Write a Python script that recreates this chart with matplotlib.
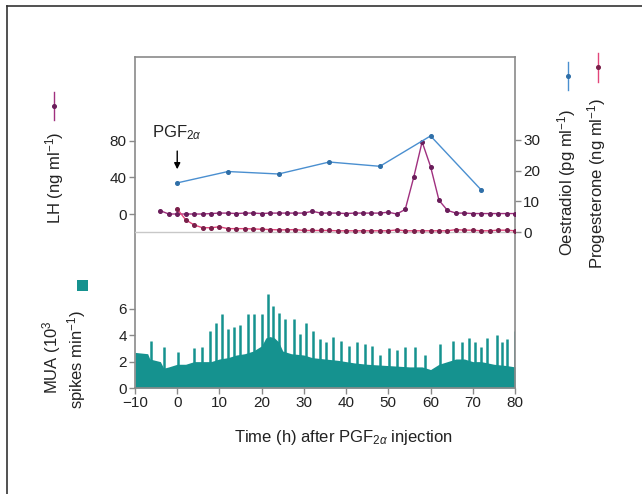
import matplotlib
matplotlib.use("Agg")
import matplotlib.pyplot as plt
from matplotlib.lines import Line2D
from matplotlib.patches import Rectangle

plt.rcParams['font.family'] = ['Liberation Sans', 'DejaVu Sans']
plt.rcParams['mathtext.fontset'] = 'custom'
plt.rcParams['mathtext.rm'] = 'Liberation Sans'
plt.rcParams['mathtext.it'] = 'Liberation Sans:italic'

# LH (ng/ml), sampled every 2 h from -4 to 80 h
lh_t = list(range(-4, 81, 2))
lh = [3.6, 0, 0, 0, 0, 0, 0.5, 1, 1, 0.5, 1, 1, 0.5, 1, 1, 1, 1, 1, 3, 1, 1, 1,
      0.5, 1, 1, 1, 1, 2, 0, 5, 40, 79, 52, 15, 4, 1, 1, 0.5, 0.5, 0.5, 0.5,
      0.5, 0.5]

# Progesterone (ng/ml), every 2 h from 0 to 80 h
prog_t = list(range(0, 81, 2))
prog = [7.5, 4.0, 2.3, 1.4, 1.4, 1.7, 1.1, 1.1, 1.1, 1.0, 0.9, 0.8, 0.7, 0.7,
        0.8, 0.5, 0.5, 0.5, 0.5, 0.4, 0.4, 0.4, 0.4, 0.4, 0.4, 0.4, 0.7, 0.4,
        0.4, 0.4, 0.4, 0.4, 0.4, 0.8, 0.6, 0.6, 0.4, 0.4, 0.6, 0.6, 0.4]

# Oestradiol (pg/ml)
oe_t = [0, 12, 24, 36, 48, 60, 72]
oe = [16, 19.7, 18.9, 22.8, 21.4, 31.3, 13.7]

# MUA baseline (10^3 spikes/min)
mua_t = [-10, -7, -6.5, -4, -3.2, -2, 0, 2, 4, 6, 8, 10, 12, 14, 16, 18, 20,
         21, 22, 23, 24, 25, 27, 30, 32, 35, 38, 40, 42, 45, 50, 55, 58, 59,
         60, 62, 64, 66, 68, 70, 72, 75, 78, 80]
mua = [2.7, 2.6, 2.2, 2.0, 1.5, 1.6, 1.8, 1.8, 2.0, 2.0, 2.0, 2.2, 2.3, 2.5,
       2.6, 2.8, 3.2, 3.8, 3.9, 3.8, 3.5, 2.8, 2.6, 2.5, 2.3, 2.2, 2.1, 2.0,
       1.9, 1.8, 1.7, 1.6, 1.6, 1.5, 1.4, 1.8, 2.0, 2.2, 2.2, 2.0, 2.0, 1.8,
       1.7, 1.6]

# MUA volleys
spike_t = [-6.2, -3.2, 0.3, 4.0, 5.8, 7.7, 9.3, 10.7, 12.1, 13.5, 14.8, 16.8,
           18.3, 20.0, 21.5, 22.7, 24.0, 25.6, 27.6, 29.0, 30.5, 32.1, 33.7,
           35.2, 36.8, 38.8, 40.8, 42.5, 44.5, 46.2, 48.0, 50.1, 52.0, 53.9,
           56.3, 58.8, 62.3, 65.2, 67.4, 69.1, 70.6, 72.0, 73.4, 75.7, 77.0,
           78.1, 79.9]
spike_h = [3.6, 3.1, 2.7, 3.0, 3.1, 4.3, 4.9, 5.6, 4.5, 4.6, 4.8, 5.6, 5.6,
           5.6, 7.1, 6.25, 5.7, 5.2, 5.2, 4.1, 4.9, 4.35, 3.7, 3.5, 3.9, 3.6,
           3.2, 3.5, 3.3, 3.2, 2.5, 3.0, 2.9, 3.1, 3.1, 2.5, 3.3, 3.6, 3.5,
           3.8, 3.5, 3.1, 3.8, 4.0, 3.5, 3.7, 4.3]

W, H = 642, 494
fig = plt.figure(figsize=(W / 100, H / 100), dpi=100)


def fx(x):
    return x / W


def fy(y):
    return 1 - y / H


rect = [fx(135), fy(388), fx(515) - fx(135), fy(57) - fy(388)]
gray = '#8a8a8a'
teal = '#15928f'
fs = 11

ax = fig.add_axes(rect)
ax_lh = fig.add_axes(rect, sharex=ax)
ax_r = fig.add_axes(rect, sharex=ax)
for a in (ax_lh, ax_r):
    a.patch.set_visible(False)
    for s in a.spines.values():
        s.set_visible(False)
    a.xaxis.set_visible(False)

for s in ax.spines.values():
    s.set_color(gray)
    s.set_linewidth(1.2)

# MUA
ax.fill_between(mua_t, mua, 0, color=teal, lw=0)
ax.vlines(spike_t, 0, spike_h, color=teal, lw=1.8)
ax.set_xlim(-10, 80)
ax.set_ylim(0, 25.1)
ax.set_yticks([0, 2, 4, 6])
ax.set_xticks(range(-10, 81, 10))
ax.tick_params(colors=gray, labelcolor='#222', labelsize=fs, length=4,
               width=1, pad=2)

# LH
ax_lh.set_ylim(-190.6, 172)
ax_lh.set_yticks([0, 40, 80])
ax_lh.tick_params(axis='y', colors=gray, labelcolor='#222', labelsize=fs,
                  length=4, width=1, pad=2)
ax_lh.plot(lh_t, lh, color='#a0307f', lw=1, marker='o', ms=2.6,
           mfc='#6a1d5a', mec='#6a1d5a', zorder=3)

# oestradiol and progesterone share the right scale
ax_r.set_ylim(-50.8, 57)
ax_r.yaxis.tick_right()
ax_r.set_yticks([0, 10, 20, 30])
ax_r.tick_params(axis='y', colors=gray, labelcolor='#222', labelsize=fs,
                 length=4, width=1, pad=2)
ax_r.axhline(0, color='#c8c8c8', lw=1, zorder=1)
ax_r.plot(oe_t, oe, color='#4a8fd0', lw=1, marker='o', ms=2.6,
          mfc='#2f6fa8', mec='#2f6fa8', zorder=3)
ax_r.plot(prog_t, prog, color='#e2457a', lw=1, marker='o', ms=2.6,
          mfc='#7a1f4a', mec='#7a1f4a', zorder=3)

# PGF2a injection marker
ax_lh.annotate('', xy=(0, 46), xytext=(0, 72),
               arrowprops=dict(arrowstyle='-|>', color='k', lw=1,
                               mutation_scale=9))
fig.text(fx(177), fy(133), r'PGF$_{2\alpha}$', fontsize=fs + 1, ha='center',
         va='center', color='#222')

# axis labels
fig.text(fx(343), fy(437), r'Time (h) after PGF$_{2\alpha}$ injection',
         fontsize=fs + 1, ha='center', va='center', color='#222')
fig.text(fx(55), fy(178), r'LH (ng ml$^{-1}$)', rotation=90, fontsize=fs + 1,
         ha='center', va='center', color='#222')
fig.text(fx(52), fy(357), r'MUA (10$^{3}$', rotation=90, fontsize=fs + 1,
         ha='center', va='center', color='#222')
fig.text(fx(77), fy(360), r'spikes min$^{-1}$)', rotation=90, fontsize=fs + 1,
         ha='center', va='center', color='#222')
fig.text(fx(567), fy(183), r'Oestradiol (pg ml$^{-1}$)', rotation=90,
         fontsize=fs + 1, ha='center', va='center', color='#222')
fig.text(fx(597), fy(183), r'Progesterone (ng ml$^{-1}$)', rotation=90,
         fontsize=fs + 1, ha='center', va='center', color='#222')

# legend keys beside the labels
keys = [(54, 92, 120, '#a0307f', '#6a1d5a'),
        (568, 62, 90, '#4a8fd0', '#2f6fa8'),
        (598, 53, 82, '#e2457a', '#7a1f4a')]
for x, y0, y1, lc, mc in keys:
    fig.add_artist(Line2D([fx(x), fx(x)], [fy(y0), fy(y1)], color=lc, lw=1))
    fig.add_artist(Line2D([fx(x)], [fy((y0 + y1) / 2)], marker='o', ms=2.6,
                          color=mc))
fig.add_artist(Rectangle((fx(77), fy(291)), fx(11), 11 / H, color=teal, lw=0))

# outer frame
fig.add_artist(Line2D([fx(7), fx(642)], [fy(6), fy(6)], color='#333', lw=1.2))
fig.add_artist(Line2D([fx(7), fx(7)], [fy(6), fy(494)], color='#333', lw=1.2))

fig.savefig('out.png', dpi=100)
